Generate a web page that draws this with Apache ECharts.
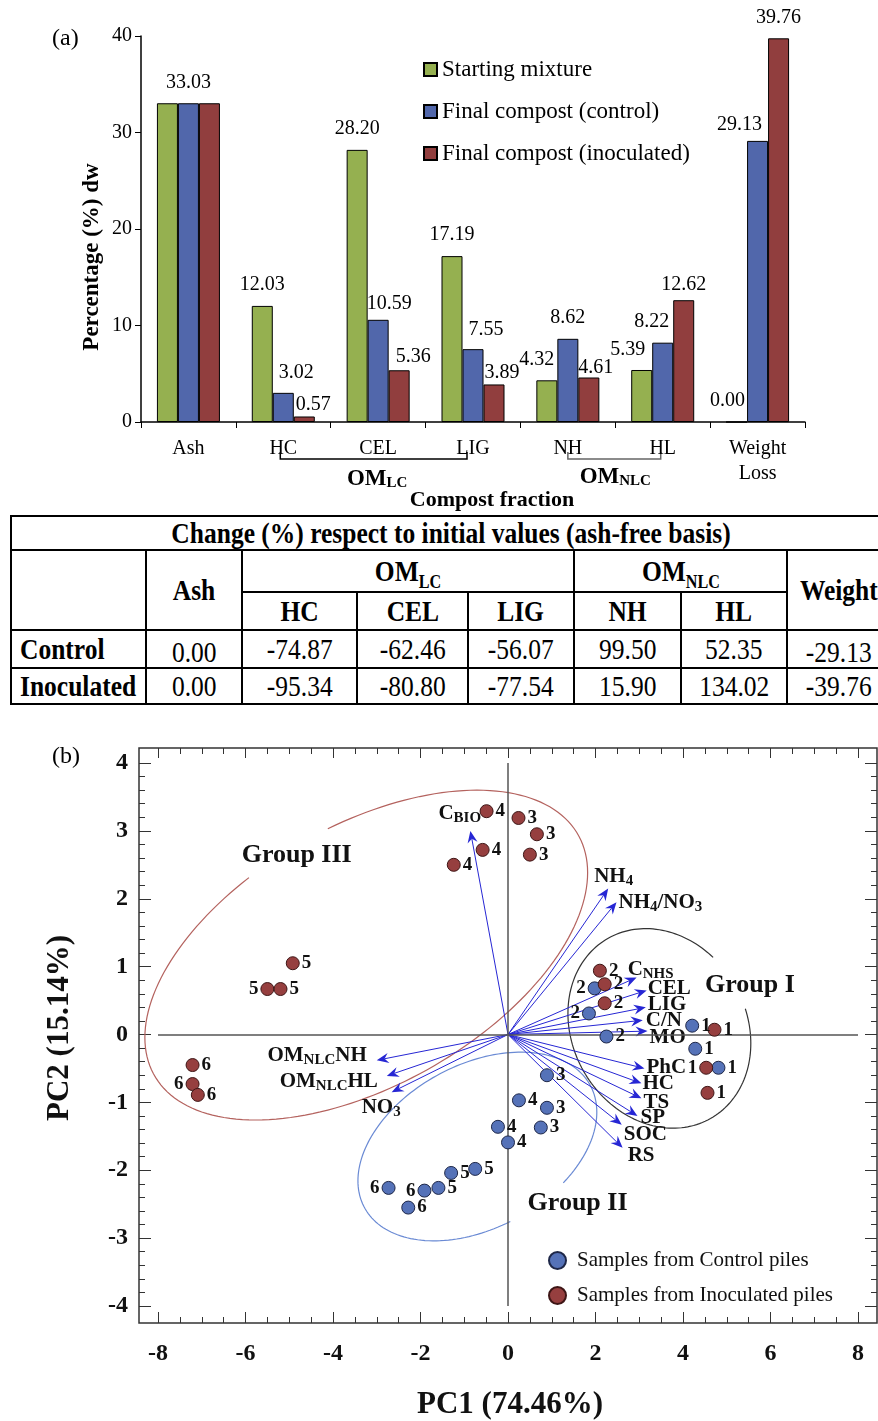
<!DOCTYPE html>
<html>
<head>
<meta charset="utf-8">
<script src="https://cdn.jsdelivr.net/npm/echarts@6/dist/echarts.min.js"></script>
<style>
html, body { margin: 0; padding: 0; background: #fff; overflow: hidden; width: 878px; height: 1421px; }
#chart { position: absolute; left: 0; top: 0; width: 878px; height: 1421px; }
#tbl { position: absolute; left: 10px; top: 515px; width: 880px; border-collapse: collapse; table-layout: fixed;
  font-family: "Liberation Serif", "Times New Roman", serif; color: #000; background: #fff; }
#tbl td { border: 2px solid #000; text-align: center; padding: 0; overflow: hidden; white-space: nowrap; font-size: 30px; line-height: 30px; }
#tbl td.b { font-weight: bold; }
#tbl td.lft { text-align: left; padding-left: 8px; }
#tbl td.bot { vertical-align: bottom; }
#tbl span { display: inline-block; transform: scaleX(0.85); }
#tbl td.lft span { transform-origin: left center; }
#tbl sub { font-size: 19px; line-height: 10px; }
</style>
</head>
<body>
<div id="chart"></div>
<table id="tbl"></table>
<script>
// (a) composition of compost fractions, % dw
var fractions = ["Ash", "HC", "CEL", "LIG", "NH", "HL", "Weight\nLoss"];
var startingMixture = [33.03, 12.03, 28.20, 17.19, 4.32, 5.39, 0.00];
var finalControl = [33.03, 3.02, 10.59, 7.55, 8.62, 8.22, 29.13];
var finalInoculated = [33.03, 0.57, 5.36, 3.89, 4.61, 12.62, 39.76];

// table: change (%) respect to initial values
var tableCols = ["Ash", "HC", "CEL", "LIG", "NH", "HL", "Weight"];
var tableRows = ["Control", "Inoculated"];
var changeControl = ["0.00", "-74.87", "-62.46", "-56.07", "99.50", "52.35", "-29.13"];
var changeInoculated = ["0.00", "-95.34", "-80.80", "-77.54", "15.90", "134.02", "-39.76"];

// (b) PCA scores
var ctrlPC1 = [4.21, 4.28, 4.81, 1.98, 1.85, 2.25, 0.89, 0.89, 0.75, 0.25, -0.23, 0.00, -0.75, -1.30, -1.59, -1.91, -2.73, -2.28];
var ctrlPC2 = [0.13, -0.21, -0.49, 0.68, 0.31, -0.03, -0.60, -1.08, -1.37, -0.97, -1.36, -1.59, -1.98, -2.04, -2.26, -2.30, -2.26, -2.55];
var ctrlStage = [1, 1, 1, 2, 2, 2, 3, 3, 3, 4, 4, 4, 5, 5, 5, 6, 6, 6];
var inocPC1 = [4.72, 4.53, 4.56, 2.10, 2.21, 2.21, 0.24, 0.66, 0.50, -0.49, -0.58, -1.24, -4.92, -5.50, -5.20, -7.21, -7.21, -7.09];
var inocPC2 = [0.07, -0.49, -0.86, 0.94, 0.74, 0.46, 3.19, 2.95, 2.65, 3.29, 2.72, 2.50, 1.05, 0.67, 0.67, -0.45, -0.73, -0.89];
var inocStage = [1, 1, 1, 2, 2, 2, 3, 3, 3, 4, 4, 4, 5, 5, 5, 6, 6, 6];

// (b) loadings
var loadNames = ["C{s|BIO}", "NH{s|4}", "NH{s|4}/NO{s|3}", "C{s|NHS}", "CEL", "LIG", "C/N", "MO", "PhC", "HC", "TS", "SP", "SOC", "RS", "OM{s|NLC}NH", "OM{s|NLC}HL", "NO{s|3}"];
var loadPC1 = [-0.86, 2.29, 2.48, 2.94, 3.17, 3.15, 3.08, 3.19, 3.12, 3.05, 3.05, 2.96, 2.60, 2.62, -3.00, -2.77, -2.66];
var loadPC2 = [3.00, 2.15, 1.95, 0.84, 0.65, 0.40, 0.21, 0.05, -0.50, -0.72, -0.94, -1.20, -1.33, -1.67, -0.38, -0.61, -0.85];

// ---- styling
var serif = '"Liberation Serif", "Times New Roman", serif';
var green = "#95B050", blue = "#5167AB", red = "#913E3E";
var ptBlue = "#5572B8", ptRed = "#963F3F";
var arrowColor = "#2626D4";

var barLabelOffsets = {
  "1-1": [13, 1], "2-1": [9, 9],
  "1-2": [11, 5], "2-2": [14, 7],
  "1-3": [13, 2], "2-3": [8, 9],
  "0-4": [-10, 0], "2-4": [7, 11],
  "0-5": [-14, 1], "1-5": [-11, 0], "2-5": [0, 6],
  "0-6": [-9, 0], "1-6": [-18, 5]
};
var barLabelHidden = ["0-0", "2-0"];

var ctrlLeftLabels = [3, 4, 15, 16];
var inocLeftLabels = [1, 13, 16];

// [align, dx, dy] of each loading label from its arrow tip
var loadLabelPos = [
  ["left", -32, -17], ["left", -14, -12], ["left", 2, 0], ["left", -9, -8],
  ["left", 1, -2], ["left", 2, -3], ["left", 3, 0], ["left", 2, 6],
  ["left", 2, -1], ["left", 1, 0], ["left", 2, 4], ["left", 3, 2],
  ["left", 2, 10], ["left", 5, 8], ["right", -10, -5], ["right", -9, 6],
  ["left", -30, 15]
];

// ellipse: x = cx + rx cos t, y = cy + ry cos(t - acos(r)); gap in degrees
var groups = [
  { name: "Group I", cx: 3.46, cy: 0.09, rx: 2.09, ry: 1.47, r: -0.15, gap: [20, 54], color: "#333333", at: [5.53, 0.73] },
  { name: "Group II", cx: -0.70, cy: -1.65, rx: 2.73, ry: 1.39, r: 0.364, gap: [-74, -44], color: "#6A8AD4", at: [1.59, -2.49] },
  { name: "Group III", cx: -3.24, cy: 1.17, rx: 5.06, ry: 2.43, r: 0.5, gap: [101, 122], color: "#B4625E", at: [-4.83, 2.64] }
];

function barSeries(name, values, color, si) {
  return {
    name: name,
    type: "bar",
    xAxisIndex: 0,
    yAxisIndex: 0,
    barWidth: 21,
    barGap: "0%",
    itemStyle: { color: color, borderColor: "#000", borderWidth: 1 },
    label: {
      show: true, position: "top", distance: 11,
      fontFamily: serif, fontSize: 20, color: "#000",
      formatter: function (p) { return p.value.toFixed(2); }
    },
    data: values.map(function (v, i) {
      var key = si + "-" + i;
      var lab = {};
      if (barLabelHidden.indexOf(key) >= 0) lab.show = false;
      if (barLabelOffsets[key]) lab.offset = barLabelOffsets[key];
      return { value: v, label: lab };
    })
  };
}

function scatterSeries(name, xs, ys, stages, color, border, leftIdx) {
  return {
    name: name,
    type: "scatter",
    xAxisIndex: 1,
    yAxisIndex: 1,
    symbolSize: 13,
    z: 5,
    itemStyle: { color: color, borderColor: border, borderWidth: 1, opacity: 1 },
    label: {
      show: true, position: "right", distance: 2,
      fontFamily: serif, fontWeight: "bold", fontSize: 19, color: "#111",
      formatter: function (p) { return p.value[2]; }
    },
    data: xs.map(function (x, i) {
      var d = { value: [x, ys[i], stages[i]] };
      if (leftIdx.indexOf(i) >= 0) d.label = { position: "left" };
      return d;
    })
  };
}

var tickLabelStyle = { fontFamily: serif, fontWeight: "bold", fontSize: 24, color: "#111" };

var option = {
  backgroundColor: "#fff",
  animation: false,
  textStyle: { fontFamily: serif },
  grid: [
    { left: 141, top: 36, width: 664, height: 386 },
    { left: 158, top: 763, width: 700, height: 543 },
    { left: 139, top: 748, width: 738, height: 575, show: true, borderColor: "#333", borderWidth: 1.5, backgroundColor: "transparent" }
  ],
  legend: [
    {
      data: ["Starting mixture", "Final compost (control)", "Final compost (inoculated)"],
      orient: "vertical", left: 418, top: 53,
      itemWidth: 13, itemHeight: 13, itemGap: 19, icon: "rect",
      textStyle: { fontFamily: serif, fontSize: 23, color: "#000" }
    },
    {
      data: ["Samples from Control piles", "Samples from Inoculated piles"],
      orient: "vertical", left: 543, top: 1245,
      itemWidth: 17, itemHeight: 17, itemGap: 14, icon: "circle",
      textStyle: { fontFamily: serif, fontSize: 21, color: "#111", padding: [0, 0, 0, 6] }
    }
  ],
  xAxis: [
    {
      type: "category", gridIndex: 0, data: fractions,
      axisLine: { lineStyle: { color: "#000", width: 1.5 } },
      axisTick: { show: true, length: 6, lineStyle: { color: "#000" } },
      axisLabel: { fontFamily: serif, fontSize: 20, color: "#000", margin: 14, lineHeight: 25 }
    },
    {
      type: "value", gridIndex: 1, min: -8, max: 8, interval: 2, position: "bottom", offset: 17,
      axisLine: { show: false, onZero: false },
      axisTick: { show: true, inside: true, length: 11, lineStyle: { color: "#333" } },
      minorTick: { show: true, splitNumber: 4, length: 6, lineStyle: { color: "#333" } },
      splitLine: { show: false },
      axisLabel: Object.assign({ margin: 19 }, tickLabelStyle)
    },
    {
      type: "value", gridIndex: 1, min: -8, max: 8, interval: 2, position: "top", offset: 15,
      axisLine: { show: false, onZero: false },
      axisTick: { show: true, inside: true, length: 10, lineStyle: { color: "#333" } },
      minorTick: { show: true, splitNumber: 4, length: 6, lineStyle: { color: "#333" } },
      splitLine: { show: false },
      axisLabel: { show: false }
    },
    { type: "value", gridIndex: 2, min: 0, max: 1, show: false }
  ],
  yAxis: [
    {
      type: "value", gridIndex: 0, min: 0, max: 40, interval: 10,
      axisLine: { show: true, lineStyle: { color: "#000", width: 1.5 } },
      axisTick: { show: true, length: 6, lineStyle: { color: "#000" } },
      splitLine: { show: false },
      axisLabel: { fontFamily: serif, fontSize: 20, color: "#000", margin: 9 }
    },
    {
      type: "value", gridIndex: 1, min: -4, max: 4, interval: 1, position: "left", offset: 19,
      axisLine: { show: false, onZero: false },
      axisTick: { show: true, inside: true, length: 12, lineStyle: { color: "#333" } },
      minorTick: { show: true, splitNumber: 5, length: 6, lineStyle: { color: "#333" } },
      splitLine: { show: false },
      axisLabel: Object.assign({ margin: 11 }, tickLabelStyle)
    },
    {
      type: "value", gridIndex: 1, min: -4, max: 4, interval: 1, position: "right", offset: 19,
      axisLine: { show: false, onZero: false },
      axisTick: { show: true, inside: true, length: 12, lineStyle: { color: "#333" } },
      minorTick: { show: true, splitNumber: 5, length: 6, lineStyle: { color: "#333" } },
      splitLine: { show: false },
      axisLabel: { show: false }
    },
    { type: "value", gridIndex: 2, min: 0, max: 1, show: false }
  ],
  series: [
    barSeries("Starting mixture", startingMixture, green, 0),
    barSeries("Final compost (control)", finalControl, blue, 1),
    barSeries("Final compost (inoculated)", finalInoculated, red, 2),
    {
      type: "custom",
      name: "groups",
      xAxisIndex: 1,
      yAxisIndex: 1,
      z: 1,
      clip: false,
      silent: true,
      data: groups.map(function (g) { return [g.cx, g.cy]; }),
      renderItem: function (params, api) {
        var g = groups[params.dataIndex];
        var alpha = Math.acos(g.r);
        var pts = [];
        var t0 = g.gap[1], t1 = g.gap[0] + 360;
        for (var t = t0; t <= t1 + 0.001; t += 2) {
          var a = t * Math.PI / 180;
          pts.push(api.coord([g.cx + g.rx * Math.cos(a), g.cy + g.ry * Math.cos(a - alpha)]));
        }
        var lp = api.coord(g.at);
        return {
          type: "group",
          children: [
            { type: "polyline", shape: { points: pts }, style: { stroke: g.color, lineWidth: 1.2, fill: null } },
            {
              type: "text", x: lp[0], y: lp[1],
              style: { text: g.name, fontFamily: serif, fontWeight: "bold", fontSize: 26, fill: "#111", align: "center", verticalAlign: "middle" }
            }
          ]
        };
      }
    },
    {
      type: "custom",
      name: "loadings",
      xAxisIndex: 1,
      yAxisIndex: 1,
      z: 2,
      clip: false,
      silent: true,
      data: loadPC1.map(function (x, i) { return [x, loadPC2[i]]; }),
      renderItem: function (params, api) {
        var i = params.dataIndex;
        var o = api.coord([0, 0]);
        var p = api.coord([api.value(0), api.value(1)]);
        var ang = Math.atan2(p[1] - o[1], p[0] - o[0]);
        var c = Math.cos(ang), s = Math.sin(ang);
        var L = 12, W = 5, N = 8;
        var base = [p[0] - L * c, p[1] - L * s];
        var notch = [p[0] - N * c, p[1] - N * s];
        var lft = [base[0] + W * s, base[1] - W * c];
        var rgt = [base[0] - W * s, base[1] + W * c];
        var lab = loadLabelPos[i];
        return {
          type: "group",
          children: [
            { type: "line", shape: { x1: o[0], y1: o[1], x2: notch[0], y2: notch[1] }, style: { stroke: arrowColor, lineWidth: 1 } },
            { type: "polygon", shape: { points: [p, lft, notch, rgt] }, style: { fill: arrowColor } },
            {
              type: "text", x: p[0] + lab[1], y: p[1] + lab[2],
              style: {
                text: loadNames[i], fontFamily: serif, fontWeight: "bold", fontSize: 21, fill: "#111",
                align: lab[0], verticalAlign: "middle",
                rich: { s: { fontFamily: serif, fontWeight: "bold", fontSize: 15, padding: [9, 0, 0, 0], fill: "#111" } }
              }
            }
          ]
        };
      }
    },
    Object.assign(scatterSeries("Samples from Control piles", ctrlPC1, ctrlPC2, ctrlStage, ptBlue, "#1E2748", ctrlLeftLabels), {
      markLine: {
        silent: true, symbol: "none", animation: false,
        label: { show: false },
        lineStyle: { color: "#555", width: 1.5, type: "solid" },
        data: [{ yAxis: 0 }, { xAxis: 0 }]
      }
    }),
    scatterSeries("Samples from Inoculated piles", inocPC1, inocPC2, inocStage, ptRed, "#3E1616", inocLeftLabels)
  ]
};

var chart = echarts.init(document.getElementById("chart"));
chart.setOption(option);

// annotations placed from the category scale
var xHC = chart.convertToPixel({ xAxisIndex: 0 }, "HC");
var xLIG = chart.convertToPixel({ xAxisIndex: 0 }, "LIG");
var xNH = chart.convertToPixel({ xAxisIndex: 0 }, "NH");
var xHL = chart.convertToPixel({ xAxisIndex: 0 }, "HL");
var y0 = chart.convertToPixel({ yAxisIndex: 0 }, 0);
var yb = y0 + 37;

function bracket(x1, x2, color) {
  return {
    type: "polyline",
    shape: { points: [[x1, yb - 7], [x1, yb], [x2, yb], [x2, yb - 7]] },
    style: { stroke: color, lineWidth: 1.5, fill: null }
  };
}

var omRich = { s: { fontFamily: serif, fontWeight: "bold", fontSize: 15, padding: [9, 0, 0, 0], fill: "#000" } };

chart.setOption({
  graphic: [
    { type: "text", left: 52, top: 27, style: { text: "(a)", fontFamily: serif, fontSize: 24, fill: "#000" } },
    { type: "text", left: 52, top: 745, style: { text: "(b)", fontFamily: serif, fontSize: 24, fill: "#000" } },
    {
      type: "text", x: 92, y: 257, rotation: Math.PI / 2,
      style: { text: "Percentage (%) dw", fontFamily: serif, fontWeight: "bold", fontSize: 23, fill: "#000", align: "center", verticalAlign: "middle" }
    },
    bracket(xHC - 3, xLIG - 6, "#000"),
    bracket(xNH, xHL - 2, "#666"),
    {
      type: "text", x: (xHC + xLIG) / 2 - 1, y: yb + 20,
      style: { text: "OM{s|LC}", fontFamily: serif, fontWeight: "bold", fontSize: 23, fill: "#000", align: "center", verticalAlign: "middle", rich: omRich }
    },
    {
      type: "text", x: (xNH + xHL) / 2, y: yb + 18,
      style: { text: "OM{s|NLC}", fontFamily: serif, fontWeight: "bold", fontSize: 23, fill: "#000", align: "center", verticalAlign: "middle", rich: omRich }
    },
    {
      type: "text", x: 492, y: 500,
      style: { text: "Compost fraction", fontFamily: serif, fontWeight: "bold", fontSize: 22, fill: "#000", align: "center", verticalAlign: "middle" }
    },
    {
      type: "text", x: 60, y: 1028, rotation: Math.PI / 2,
      style: { text: "PC2 (15.14%)", fontFamily: serif, fontWeight: "bold", fontSize: 31, fill: "#111", align: "center", verticalAlign: "middle" }
    },
    {
      type: "text", x: 510, y: 1405,
      style: { text: "PC1 (74.46%)", fontFamily: serif, fontWeight: "bold", fontSize: 31, fill: "#111", align: "center", verticalAlign: "middle" }
    }
  ]
});

// table of changes
function cell(txt, cls, extra) {
  return "<td" + (cls ? ' class="' + cls + '"' : "") + (extra || "") + "><span>" + txt + "</span></td>";
}
var colW = [135, 96, 115, 111, 106, 107, 106, 104];
var h = "<colgroup>" + colW.map(function (w) { return '<col style="width:' + w + 'px">'; }).join("") + "</colgroup>";
h += '<tr style="height:34px">' + cell("Change (%) respect to initial values (ash-free basis)", "b", ' colspan="8"') + "</tr>";
h += '<tr style="height:42px">' + cell("", "", ' rowspan="2"') + cell(tableCols[0], "b", ' rowspan="2"') +
  cell("OM<sub>LC</sub>", "b", ' colspan="3"') + cell("OM<sub>NLC</sub>", "b", ' colspan="2"') +
  cell(tableCols[6], "b", ' rowspan="2"') + "</tr>";
h += '<tr style="height:38px">' + tableCols.slice(1, 6).map(function (c) { return cell(c, "b"); }).join("") + "</tr>";
[changeControl, changeInoculated].forEach(function (vals, r) {
  h += '<tr style="height:' + (r === 0 ? 38 : 36) + 'px">' + cell(tableRows[r], "b lft") +
    vals.map(function (v, i) { return cell(v, (i === 0 || i === 6) && r === 0 ? "bot" : ""); }).join("") + "</tr>";
});
document.getElementById("tbl").innerHTML = h;
</script>
</body>
</html>
